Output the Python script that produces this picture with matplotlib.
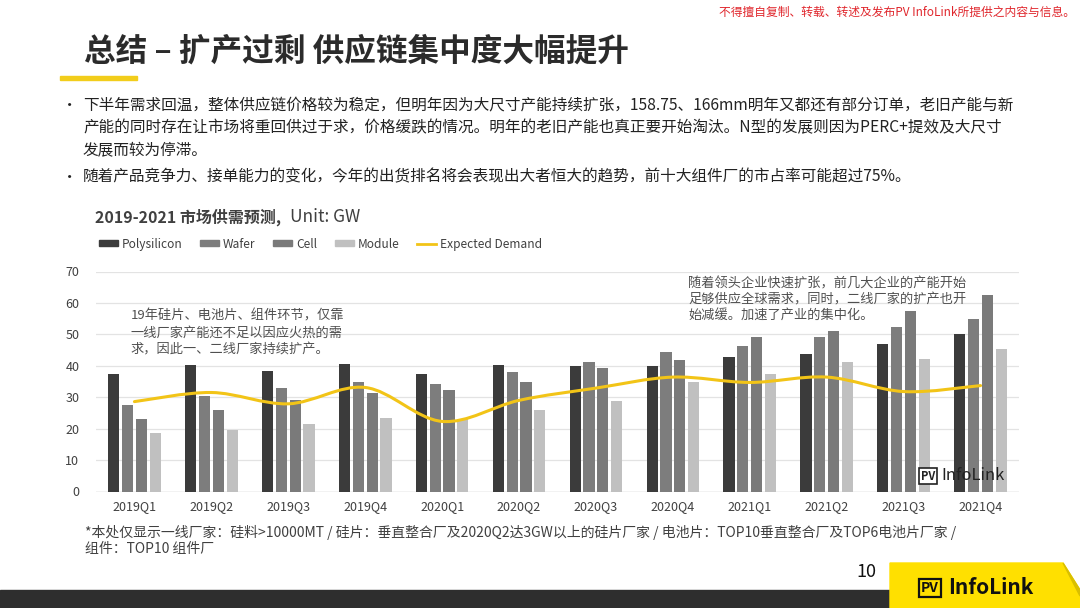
import numpy as np
import matplotlib.pyplot as plt
from matplotlib.path import Path
from matplotlib.patches import PathPatch, Polygon, Rectangle
from matplotlib.lines import Line2D

plt.rcParams['font.family'] = ['Noto Sans CJK SC', 'DejaVu Sans']

# data (GW)
quarters = ['2019Q1', '2019Q2', '2019Q3', '2019Q4', '2020Q1', '2020Q2',
            '2020Q3', '2020Q4', '2021Q1', '2021Q2', '2021Q3', '2021Q4']
polysilicon = [37.4, 40.3, 38.5, 40.6, 37.4, 40.3, 39.8, 39.8, 42.9, 43.6, 46.9, 50.1]
wafer = [27.4, 30.3, 32.9, 34.9, 34.3, 37.9, 41.1, 44.4, 46.4, 49.3, 52.2, 55.0]
cell = [23.0, 26.0, 29.2, 31.5, 32.4, 34.9, 39.2, 41.9, 49.3, 51.1, 57.3, 62.6]
module = [18.6, 19.6, 21.4, 23.5, 23.0, 26.0, 28.8, 35.0, 37.4, 41.1, 42.2, 45.4]
demand = [28.6, 31.5, 27.9, 33.1, 22.3, 29.0, 32.9, 36.4, 34.7, 36.4, 31.8, 33.7]

series_names = ['Polysilicon', 'Wafer', 'Cell', 'Module']
series_colors = ['#3b3b3b', '#7d7d7d', '#7a7a7a', '#c0c0c0']
demand_color = '#f2c417'

W, H = 1080, 608
fig = plt.figure(figsize=(W / 100, H / 100), dpi=100)


def fx(px):
    return px / W


def fy(py):
    return 1 - py / H


# header
fig.text(fx(1075), fy(12), '不得擅自复制、转载、转述及发布PV InfoLink所提供之内容与信息。',
         color='#e0262c', fontsize=8.5, ha='right', va='center')
fig.text(fx(84), fy(52), '总结 – 扩产过剩 供应链集中度大幅提升', fontsize=22.8,
         fontweight='bold', color='#2b2b2b', ha='left', va='center')
fig.add_artist(Rectangle((fx(60), fy(80)), fx(77), 4 / H, color='#f2cd1b',
                         transform=fig.transFigure))

bullets = [
    (105, '•', '下半年需求回温，整体供应链价格较为稳定，但明年因为大尺寸产能持续扩张，158.75、166mm明年又都还有部分订单，老旧产能与新'),
    (128, '', '产能的同时存在让市场将重回供过于求，价格缓跌的情况。明年的老旧产能也真正要开始淘汰。N型的发展则因为PERC+提效及大尺寸'),
    (151, '', '发展而较为停滞。'),
    (177, '•', '随着产品竞争力、接单能力的变化，今年的出货排名将会表现出大者恒大的趋势，前十大组件厂的市占率可能超过75%。'),
]
for y, b, t in bullets:
    if b:
        fig.text(fx(62), fy(y), b, fontsize=11, color='#222222', va='center')
    fig.text(fx(83), fy(y), t, fontsize=11.25, color='#222222', va='center')

# chart title
fig.text(fx(95), fy(217), '2019-2021 市场供需预测,', fontsize=11.5, fontweight='bold',
         color='#404040', va='center')
fig.text(fx(290), fy(217), 'Unit: GW', fontsize=12.5, color='#404040', va='center')

# axes
ax = fig.add_axes([fx(96), fy(491.5), fx(1019 - 96), (491.5 - 271.5) / H])
x = np.arange(len(quarters))
step, width = 0.18, 0.145
for i, (vals, c) in enumerate(zip([polysilicon, wafer, cell, module], series_colors)):
    ax.bar(x + (i - 1.5) * step, vals, width=width, color=c, zorder=2)

# smooth demand line through the points (Catmull-Rom as cubic Beziers)
pts = np.column_stack([x, demand]).astype(float)
ext = np.vstack([pts[0], pts, pts[-1]])
verts = [tuple(pts[0])]
codes = [Path.MOVETO]
for k in range(len(pts) - 1):
    p0, p1, p2, p3 = ext[k], ext[k + 1], ext[k + 2], ext[k + 3]
    verts += [tuple(p1 + (p2 - p0) / 6), tuple(p2 - (p3 - p1) / 6), tuple(p2)]
    codes += [Path.CURVE4] * 3
ax.add_patch(PathPatch(Path(verts, codes), fill=False, edgecolor=demand_color,
                       lw=2.2, zorder=3, capstyle='round'))

ax.set_xlim(-0.5, len(quarters) - 0.5)
ax.set_ylim(0, 70)
ax.set_yticks(range(0, 71, 10))
ax.set_xticks(x)
ax.set_xticklabels(quarters)
ax.grid(axis='y', color='#e3e3e3', lw=0.9, zorder=0)
ax.set_axisbelow(True)
for s in ax.spines.values():
    s.set_visible(False)
ax.axhline(0, color='#d0d0d0', lw=1, zorder=1)
ax.tick_params(length=0, labelsize=9, colors='#404040', pad=6)
ax.tick_params(axis='y', pad=12)

handles = [Rectangle((0, 0), 1, 1, color=c) for c in series_colors]
handles.append(Line2D([0], [0], color=demand_color, lw=2))
leg = fig.legend(handles, series_names + ['Expected Demand'], loc='center left',
                 bbox_to_anchor=(fx(88), fy(244)), ncol=5, frameon=False,
                 fontsize=8.6, handlelength=1.6, handleheight=0.35,
                 handletextpad=0.3, columnspacing=1.5)
for t in leg.get_texts():
    t.set_color('#404040')

# annotations
ax.text(-0.05, 57.8, '19年硅片、电池片、组件环节，仅靠\n一线厂家产能还不足以因应火热的需\n求，因此一、二线厂家持续扩产。',
        fontsize=9.5, color='#505050', va='top', linespacing=1.35, zorder=4)
ax.text(7.2, 68.3, '随着领头企业快速扩张，前几大企业的产能开始\n足够供应全球需求，同时，二线厂家的扩产也开\n始减缓。加速了产业的集中化。',
        fontsize=9.5, color='#505050', va='top', linespacing=1.3, zorder=4)

# watermark
fig.text(fx(928), fy(476), 'PV', fontsize=8, fontweight='bold', color='#222222',
         ha='center', va='center',
         bbox=dict(boxstyle='square,pad=0.15', fc='white', ec='#222222', lw=1.2))
fig.text(fx(941), fy(476), 'InfoLink', fontsize=12, fontweight='medium', color='#222222',
         va='center')

# footnote
fig.text(fx(85), fy(532), '*本处仅显示一线厂家：硅料>10000MT / 硅片：垂直整合厂及2020Q2达3GW以上的硅片厂家 / 电池片：TOP10垂直整合厂及TOP6电池片厂家 /',
         fontsize=10, color='#404040', va='center')
fig.text(fx(85), fy(549), '组件：TOP10 组件厂', fontsize=10, color='#404040', va='center')

# footer
fig.add_artist(Rectangle((0, 0), 1, 18 / H, color='#2e2e2e', transform=fig.transFigure))
fig.add_artist(Polygon([(fx(890), fy(608)), (fx(890), fy(563)), (fx(1063), fy(563)),
                        (fx(1080), fy(590)), (fx(1080), fy(608))],
                       closed=True, color='#ffe000', transform=fig.transFigure))
fig.add_artist(Polygon([(fx(1063), fy(563)), (fx(1080), fy(590)), (fx(1080), fy(596))],
                       closed=True, color='#d9bf00', transform=fig.transFigure))
fig.text(fx(866), fy(572), '10', fontsize=13, color='#111111', ha='center', va='center')
fig.text(fx(930), fy(588), 'PV', fontsize=10, fontweight='bold', color='#111111',
         ha='center', va='center',
         bbox=dict(boxstyle='square,pad=0.15', fc='none', ec='#111111', lw=1.6))
fig.text(fx(948), fy(588), 'InfoLink', fontsize=15, fontweight='bold', color='#111111',
         va='center')

fig.savefig('out.png', dpi=100)
